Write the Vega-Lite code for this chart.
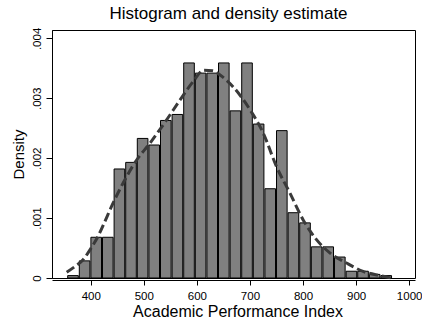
{
  "$schema": "https://vega.github.io/schema/vega-lite/v6.json",
  "autosize": {"type": "none"},
  "width": 363,
  "height": 248,
  "padding": {"left": 52, "top": 30, "right": 7, "bottom": 43},
  "background": "white",
  "config": {
    "font": "Liberation Sans",
    "view": {"stroke": "black", "strokeWidth": 1}
  },
  "title": {
    "text": "Histogram and density estimate",
    "fontSize": 17,
    "fontWeight": "normal",
    "color": "black",
    "anchor": "middle",
    "frame": "group",
    "offset": 4,
    "dx": -5
  },
  "datasets": {
    "bars": [
      {"bin_start": 354.7, "bin_end": 376.56, "density": 0.00004},
      {"bin_start": 376.56, "bin_end": 398.42, "density": 0.000286},
      {"bin_start": 398.42, "bin_end": 420.28, "density": 0.00068},
      {"bin_start": 420.28, "bin_end": 442.14, "density": 0.00068},
      {"bin_start": 442.14, "bin_end": 464.0, "density": 0.00182},
      {"bin_start": 464.0, "bin_end": 485.86, "density": 0.00193},
      {"bin_start": 485.86, "bin_end": 507.72, "density": 0.00233},
      {"bin_start": 507.72, "bin_end": 529.58, "density": 0.00222},
      {"bin_start": 529.58, "bin_end": 551.44, "density": 0.00263},
      {"bin_start": 551.44, "bin_end": 573.3, "density": 0.00273},
      {"bin_start": 573.3, "bin_end": 595.16, "density": 0.00359},
      {"bin_start": 595.16, "bin_end": 617.02, "density": 0.00342},
      {"bin_start": 617.02, "bin_end": 638.88, "density": 0.00342},
      {"bin_start": 638.88, "bin_end": 660.74, "density": 0.00359},
      {"bin_start": 660.74, "bin_end": 682.6, "density": 0.00279},
      {"bin_start": 682.6, "bin_end": 704.46, "density": 0.00359},
      {"bin_start": 704.46, "bin_end": 726.32, "density": 0.00257},
      {"bin_start": 726.32, "bin_end": 748.18, "density": 0.00149},
      {"bin_start": 748.18, "bin_end": 770.04, "density": 0.00246},
      {"bin_start": 770.04, "bin_end": 791.9, "density": 0.00109},
      {"bin_start": 791.9, "bin_end": 813.76, "density": 0.00092},
      {"bin_start": 813.76, "bin_end": 835.62, "density": 0.00052},
      {"bin_start": 835.62, "bin_end": 857.48, "density": 0.00052},
      {"bin_start": 857.48, "bin_end": 879.34, "density": 0.00035},
      {"bin_start": 879.34, "bin_end": 901.2, "density": 0.000113},
      {"bin_start": 901.2, "bin_end": 923.06, "density": 0.000113},
      {"bin_start": 923.06, "bin_end": 944.92, "density": 0.00006},
      {"bin_start": 944.92, "bin_end": 966.78, "density": 0.00004}
    ],
    "kde": [
      {"api": 354.7, "density": 0.000097},
      {"api": 370, "density": 0.00019},
      {"api": 386, "density": 0.00031},
      {"api": 400, "density": 0.00049},
      {"api": 414, "density": 0.00070},
      {"api": 427, "density": 0.00095},
      {"api": 439.4, "density": 0.00120},
      {"api": 461.3, "density": 0.00159},
      {"api": 486.5, "density": 0.00197},
      {"api": 511.6, "density": 0.00225},
      {"api": 543, "density": 0.00264},
      {"api": 568, "density": 0.00297},
      {"api": 593, "density": 0.00328},
      {"api": 613, "density": 0.00347},
      {"api": 630, "density": 0.00346},
      {"api": 645, "density": 0.00338},
      {"api": 668.4, "density": 0.00319},
      {"api": 700, "density": 0.00281},
      {"api": 725, "density": 0.00242},
      {"api": 750, "density": 0.00186},
      {"api": 775.2, "density": 0.00142},
      {"api": 800.3, "density": 0.00097},
      {"api": 825.4, "density": 0.00064},
      {"api": 850.5, "density": 0.00042},
      {"api": 881.9, "density": 0.00025},
      {"api": 913.2, "density": 0.00011},
      {"api": 944.7, "density": 0.00004},
      {"api": 966.7, "density": 0.0}
    ]
  },
  "layer": [
    {
      "data": {"name": "bars"},
      "mark": {"type": "bar", "fill": "#808080", "stroke": "black", "strokeWidth": 1, "binSpacing": 1},
      "encoding": {
        "x": {
          "field": "bin_start", "type": "quantitative", "bin": "binned",
          "scale": {"domain": [327, 1011], "nice": false, "zero": false},
          "axis": {
            "title": "Academic Performance Index",
            "titleFontSize": 16, "titleFontWeight": "normal", "titleColor": "black", "titlePadding": 2,
            "titleX": 185.5,
            "values": [400, 500, 600, 700, 800, 900, 1000],
            "format": "d",
            "labelFontSize": 11.5, "labelColor": "black", "labelPadding": 5,
            "tickSize": 5, "tickColor": "black", "domainColor": "black",
            "offset": 2, "grid": false
          }
        },
        "x2": {"field": "bin_end"},
        "y": {
          "field": "density", "type": "quantitative",
          "scale": {"domain": [0, 0.00414], "nice": false},
          "axis": {
            "title": "Density",
            "titleFontSize": 15, "titleFontWeight": "normal", "titleColor": "black", "titlePadding": 5,
            "values": [0, 0.001, 0.002, 0.003, 0.004],
            "labelExpr": "datum.value == 0 ? '0' : replace(format(datum.value, '.3f'), '0.', '.')",
            "labelAngle": 270, "labelAlign": "center", "labelBaseline": "bottom",
            "labelFontSize": 11.5, "labelColor": "black", "labelPadding": 4,
            "tickSize": 6, "tickColor": "black", "domainColor": "black", "grid": false
          }
        }
      }
    },
    {
      "data": {"name": "kde"},
      "mark": {"type": "line", "color": "#3a3a3a", "strokeWidth": 3, "strokeDash": [9, 4], "interpolate": "monotone"},
      "encoding": {
        "x": {"field": "api", "type": "quantitative"},
        "y": {"field": "density", "type": "quantitative"}
      }
    }
  ]
}
